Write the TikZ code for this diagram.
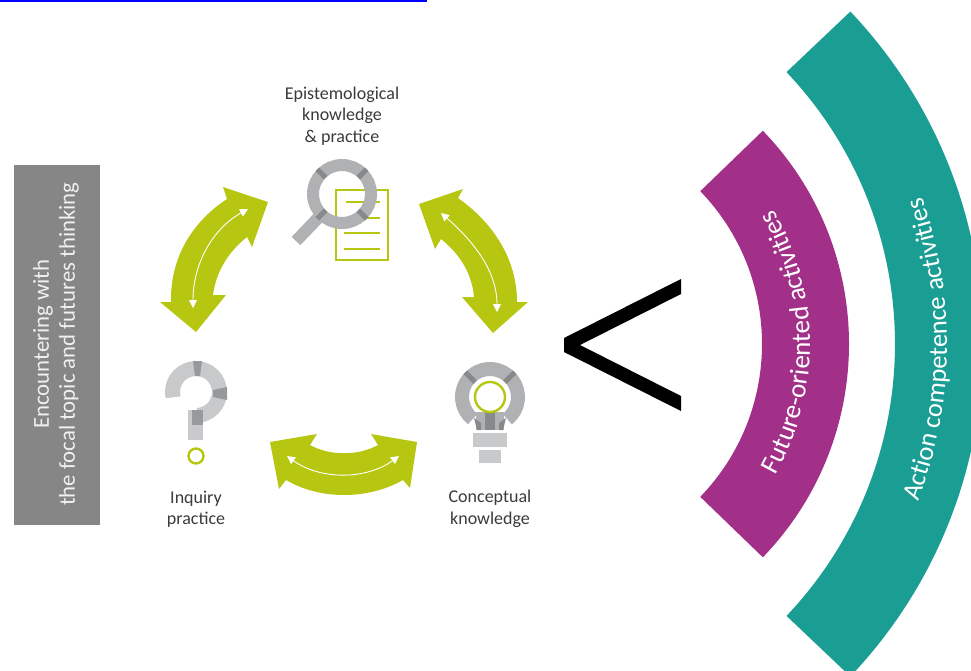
\documentclass[tikz,border=0pt]{standalone}
\usepackage{fontspec}
\setmainfont{Carlito}
\usepackage{xcolor}
\usetikzlibrary{
  arrows.meta,
  decorations.text
}
\definecolor{arrowgreen}{HTML}{B7C611}
\definecolor{bandpurple}{HTML}{A23088}
\definecolor{bandteal}{HTML}{1A9E93}
\definecolor{boxgrey}{HTML}{868686}
\definecolor{ringgrey}{HTML}{B0B1B3}
\definecolor{palegrey}{HTML}{C8C9CA}
\definecolor{tickgrey}{HTML}{88898B}
\definecolor{labelgrey}{HTML}{3A3A3A}
\begin{document}
\begin{tikzpicture}[
    x=1pt, y=-1pt,
  every node/.style = {align=center, inner sep=0pt},
  whitearrow/.style = {draw=white, line width=0.9pt,
    {Triangle[length=8pt,width=8pt]}-{Triangle[length=8pt,width=8pt]}}]
    \tikzstyle{iconlabel}=[text=labelgrey, font=\fontsize{18}{21.5}\selectfont]
    \tikzstyle{greenline}=[draw=arrowgreen, line width=2.4pt]
    \tikzstyle{ringtick}=[draw=tickgrey, line width=5pt]
    \useasboundingbox (0,0) rectangle (971,670);
  \draw[blue, line width=1.4pt] (0,0.8) -- (427,0.8);
  \node[fill=boxgrey, minimum width=86pt, minimum height=360pt] (focalbox) at (57,345) {};
  \node[rotate=90, text=white!88!boxgrey, font=\fontsize{22.8}{26}\selectfont] (focaltext) at (56,344)
    {Encountering with\\the focal topic and futures thinking};
  \node[iconlabel] (epistemic) at (342,116) {Epistemological\\knowledge\\\& practice};
  \node[iconlabel] (inquiry) at (196,509) {Inquiry\\practice};
  \node[iconlabel] (conceptual) at (490,509) {Conceptual\\knowledge};
  % document and magnifier
  \draw[greenline] (336,190) rectangle (388,260);
  \draw[greenline] (346,202) -- (380,202);
  \draw[greenline] (346,218) -- (380,218);
  \draw[greenline] (344,233) -- (380,233);
  \draw[greenline] (344,249) -- (380,249);
  \draw[ringgrey, line width=12pt] (342,194) circle[radius=29pt];
  \draw[ringgrey, line width=12pt] (320,216) -- (296,241);
  \draw[ringtick] (342,194) ++(45:23pt) -- ++(45:12pt);
  \draw[ringtick] (342,194) ++(135:23pt) -- ++(135:12pt);
  \draw[ringtick] (342,194) ++(225:23pt) -- ++(225:12pt);
  \draw[ringtick] (342,194) ++(315:23pt) -- ++(315:12pt);
  % question mark
  \draw[palegrey, line width=15pt] (196,392) ++(193:23.5pt) arc[start angle=193, end angle=-85, radius=23.5pt];
  \fill[palegrey] (188,410) rectangle (203,440);
  \fill[tickgrey!75!palegrey] (193,361) -- (202,361) -- (200,376) -- (195,376) -- cycle;
  \fill[tickgrey!75!palegrey] (213,390) -- (227,387) -- (227,400) -- (213,397) -- cycle;
  \fill[tickgrey!75!palegrey] (192,410) rectangle (203,425);
  \draw[greenline] (196,456) circle[radius=7.5pt];
  % light bulb
  \draw[ringgrey, line width=14pt] (490,397) ++(-52:28pt) arc[start angle=-52, end angle=232, radius=28pt];
  \fill[ringgrey] (476,412) rectangle (504,430);
  \fill[tickgrey] (485,412) rectangle (495,430);
  \fill[tickgrey] (474,418) -- (481,423) -- (481,430) -- (477,430) -- cycle;
  \fill[tickgrey] (506,418) -- (499,423) -- (499,430) -- (503,430) -- cycle;
  \draw[ringtick] (490,397) ++(45:21pt) -- ++(45:14pt);
  \draw[ringtick] (490,397) ++(135:21pt) -- ++(135:14pt);
  \draw[greenline] (490,397) circle[radius=15pt];
  \fill[palegrey] (473,433) rectangle (507,447);
  \fill[palegrey] (479,450) rectangle (501,463);
  % green arrows
  \fill[arrowgreen] (268,202) -- (223,187) -- (227,199) .. controls (192,222) and (170,258) .. (171,302)
    -- (160,302) -- (196,332) -- (226,295) -- (213,295) .. controls (216,272) and (228,252) .. (247,237)
    -- (252,247) -- cycle;
  \fill[arrowgreen] (419,204) -- (463,189) -- (458,198) .. controls (492,222) and (517,258) .. (517,302)
    -- (528,302) -- (493,333) -- (462,297) -- (474,297) .. controls (472,274) and (460,254) .. (441,239)
    -- (435,249) -- cycle;
  \fill[arrowgreen] (270,442) -- (317,434) -- (310,445) .. controls (330,456) and (358,456) .. (378,445)
    -- (371,434) -- (417,442) -- (410,488) -- (403,480) .. controls (368,500) and (320,500) .. (286,480)
    -- (279,489) -- cycle;
  \coordinate (leftA) at (193,308);
  \coordinate (leftB) at (248,209);
  \coordinate (rightA) at (441,213);
  \coordinate (rightB) at (497,312);
  \coordinate (lowA) at (287,456);
  \coordinate (lowB) at (399,456);
  \draw[whitearrow] (leftA) .. controls (193,262) and (214,228) .. (leftB);
  \draw[whitearrow] (rightA) .. controls (472,240) and (497,270) .. (rightB);
  \draw[whitearrow] (lowA) .. controls (320,480) and (366,480) .. (lowB);
  % comparison sign
  \fill[black] (681,279) -- (681,294) -- (580,345) -- (681,396) -- (681,411) -- (564,352) -- (564,338) -- cycle;
  % activity bands
  \coordinate (innercentre) at (542,344);
  \coordinate (outercentre) at (500,344);
  \fill[bandpurple] (innercentre) ++(44:307pt) arc[start angle=44, end angle=-44, radius=307pt]
    -- ++(136:87pt) arc[start angle=-44, end angle=44, radius=220pt] -- cycle;
  \fill[bandteal] (outercentre) ++(43.5:483pt) arc[start angle=43.5, end angle=-43.5, radius=483pt]
    -- ++(136.5:88pt) arc[start angle=-43.5, end angle=43.5, radius=395pt] -- cycle;
  \path[decorate, decoration={text along path, text align=center,
      text={|\fontsize{27}{30}\selectfont\color{white}|Future-oriented activities}}]
    (innercentre) ++(-34:268pt) arc[start angle=-34, end angle=35, radius=268pt];
  \path[decorate, decoration={text along path, text align=center,
      text={|\fontsize{26.5}{30}\selectfont\color{white}|Action competence activities}}]
    (outercentre) ++(-25:447pt) arc[start angle=-25, end angle=23.5, radius=447pt];
\end{tikzpicture}
\end{document}
